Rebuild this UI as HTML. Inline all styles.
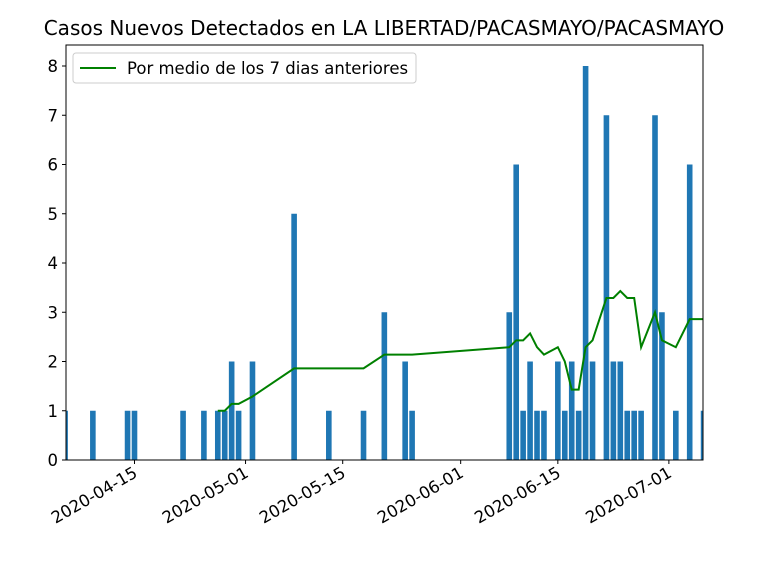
<!DOCTYPE html>
<html><head><meta charset="utf-8"><style>
body{margin:0;background:#fff;font-family:"DejaVu Sans","Liberation Sans",sans-serif}
</style></head><body>
<svg id="chart" width="768" height="576" xmlns="http://www.w3.org/2000/svg" font-family="DejaVu Sans, Liberation Sans, sans-serif"></svg>
<script>
const days=[-10,-6,-1,0,7,10,12,13,14,15,17,23,28,33,36,39,40,54,55,56,57,58,59,61,62,63,64,65,66,68,69,70,71,72,73,75,76,78,80,82];
const cases=[1,1,1,1,1,1,1,1,2,1,2,5,1,1,3,2,1,3,6,1,2,1,1,2,1,2,1,8,2,7,2,2,1,1,1,7,3,1,6,1];
const avgDays=[12,13,14,15,17,23,28,33,36,39,40,54,55,56,57,58,59,61,62,63,64,65,66,68,69,70,71,72,73,75,76,78,80,82];
const avgVals=[1,1,1.14,1.14,1.29,1.86,1.86,1.86,2.14,2.14,2.14,2.29,2.43,2.43,2.57,2.29,2.14,2.29,2.0,1.43,1.43,2.29,2.43,3.29,3.29,3.43,3.29,3.29,2.29,3.0,2.43,2.29,2.86,2.86];
const yTicks=[0,1,2,3,4,5,6,7,8];
const xTickDays=[0,16,30,47,61,77];
const xTickLabels=["2020-04-15","2020-05-01","2020-05-15","2020-06-01","2020-06-15","2020-07-01"];
const L=66,R=703,T=45,B=460;
const X=d=>134.5+d*6.94;
const Y=v=>B-v*49.25;
const NS="http://www.w3.org/2000/svg";
const svg=document.getElementById('chart');
function mk(t,a,p){const e=document.createElementNS(NS,t);for(const k in a)e.setAttribute(k,a[k]);(p||svg).appendChild(e);return e;}
const defs=mk('defs',{});const cp=mk('clipPath',{id:'c'},defs);mk('rect',{x:L,y:T,width:R-L,height:B-T},cp);
const plot=mk('g',{'clip-path':'url(#c)'});

days.forEach((d,i)=>{const r=mk('rect',{x:X(d)-2.8,y:Y(cases[i]),width:5.6,height:cases[i]*49.25,fill:'#1f77b4'},plot);

});
const pl=mk('polyline',{points:avgDays.map((d,i)=>X(d)+','+Y(avgVals[i])).join(' '),fill:'none',stroke:'green','stroke-width':2},plot);


const fr=mk('rect',{x:L,y:T,width:R-L,height:B-T,fill:'none',stroke:'#000','stroke-width':1});


yTicks.forEach(v=>{mk('line',{x1:L-4,x2:L,y1:Y(v),y2:Y(v),stroke:'#000'});
const t=mk('text',{x:L-8,y:Y(v)+6,'text-anchor':'end','font-size':16.5});t.textContent=v;

});
xTickDays.forEach((d,i)=>{const x=X(d);mk('line',{x1:x,x2:x,y1:B,y2:B+4,stroke:'#000'});
const t=mk('text',{x:x+4,y:B+16,'text-anchor':'end','font-size':16.5,transform:`rotate(-30 ${x+4} ${B+16})`});t.textContent=xTickLabels[i];

});
const ti=mk('text',{x:384,y:35,'text-anchor':'middle','font-size':20});ti.textContent='Casos Nuevos Detectados en LA LIBERTAD/PACASMAYO/PACASMAYO';


const lg=mk('g',{});


mk('rect',{x:73,y:53,width:343,height:30,rx:3,fill:'#fff',stroke:'#ccc'},lg);
mk('line',{x1:80,x2:116,y1:68,y2:68,stroke:'green','stroke-width':2},lg);
const lt=mk('text',{x:127,y:74,'font-size':16.5},lg);lt.textContent='Por medio de los 7 dias anteriores';


</script>
</body></html>
